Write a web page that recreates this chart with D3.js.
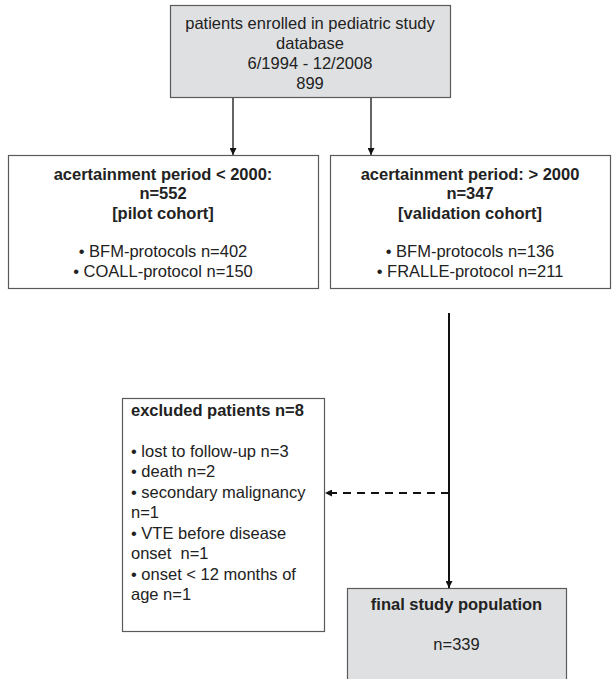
<!DOCTYPE html>
<html lang="en">
<head>
<meta charset="UTF-8">
<title>Study flowchart</title>
<script src="https://cdn.jsdelivr.net/npm/d3@7"></script>
<style>
  body { margin: 0; background: #fff; }
  text { font-family: "Liberation Sans", Arial, sans-serif; font-size: 16.5px; fill: #222; }
  .bold { font-weight: bold; }
</style>
</head>
<body>
<script>
// text content of every box
const enrolledLines = ["patients enrolled in pediatric study", "database", "6/1994 - 12/2008", "899"];
const pilotLines = ["acertainment period < 2000:", "n=552", "[pilot cohort]", "", "\u2022 BFM-protocols n=402", "\u2022 COALL-protocol n=150"];
const validationLines = ["acertainment period: > 2000", "n=347", "[validation cohort]", "", "\u2022 BFM-protocols n=136", "\u2022 FRALLE-protocol n=211"];
const excludedLines = ["excluded patients n=8", "", "\u2022 lost to follow-up n=3", "\u2022 death n=2", "\u2022 secondary malignancy", "n=1", "\u2022 VTE before disease", "onset\u00a0 n=1", "\u2022 onset < 12 months of", "age n=1"];
const finalLines = ["final study population", "", "n=339"];
const boldCount = [0, 3, 3, 1, 1];

// layout (pixels)
const width = 612, height = 679;
const boxes = [
  { x0: 170, y0: 5, x1: 450, y1: 97, fill: "#dfe0e1", align: "middle", first: 23, gap: 20, lines: enrolledLines },
  { x0: 8, y0: 155, x1: 318, y1: 288, fill: "#fff", align: "middle", first: 174, gap: 19.4, lines: pilotLines },
  { x0: 330, y0: 155, x1: 610, y1: 288, fill: "#fff", align: "middle", first: 174, gap: 19.4, lines: validationLines },
  { x0: 122, y0: 398, x1: 324, y1: 631, fill: "#fff", align: "start", first: 410, gap: 20.5, lines: excludedLines },
  { x0: 347, y0: 588, x1: 566, y1: 690, fill: "#dfe0e1", align: "middle", first: 604, gap: 20, lines: finalLines }
];

const svg = d3.select("body").append("svg")
  .attr("width", width)
  .attr("height", height);

svg.append("defs").append("marker")
  .attr("id", "arrow")
  .attr("viewBox", "0 0 10 10")
  .attr("refX", 10).attr("refY", 5)
  .attr("markerWidth", 8).attr("markerHeight", 7)
  .attr("markerUnits", "userSpaceOnUse")
  .attr("orient", "auto")
  .append("path")
  .attr("d", "M0,0 L10,5 L0,10 Z")
  .attr("fill", "#111");

// connectors
const links = [
  { x1: 233, y1: 97, x2: 233, y2: 155, dash: null, w: 1.3 },
  { x1: 371, y1: 97, x2: 371, y2: 155, dash: null, w: 1.3 },
  { x1: 449, y1: 313, x2: 449, y2: 588, dash: null, w: 2 },
  { x1: 449, y1: 493, x2: 325, y2: 493, dash: "8,6", w: 2 }
];

svg.selectAll("line.link")
  .data(links)
  .enter()
  .append("line")
  .attr("class", "link")
  .attr("x1", d => d.x1).attr("y1", d => d.y1)
  .attr("x2", d => d.x2).attr("y2", d => d.y2)
  .attr("stroke", "#111")
  .attr("stroke-width", d => d.w)
  .attr("stroke-dasharray", d => d.dash)
  .attr("marker-end", "url(#arrow)");

const g = svg.selectAll("g.box")
  .data(boxes)
  .enter()
  .append("g")
  .attr("class", "box");

g.append("rect")
  .attr("x", d => d.x0 + 0.5)
  .attr("y", d => d.y0 + 0.5)
  .attr("width", d => d.x1 - d.x0)
  .attr("height", d => d.y1 - d.y0)
  .attr("fill", d => d.fill)
  .attr("stroke", "#5a5a5a")
  .attr("stroke-width", 1.2);

g.each(function (d, bi) {
  const tx = d.align === "middle" ? (d.x0 + d.x1) / 2 : d.x0 + 9;
  d3.select(this).selectAll("text")
    .data(d.lines)
    .enter()
    .append("text")
    .attr("x", tx)
    .attr("y", (t, i) => d.first + i * d.gap)
    .attr("dy", "0.35em")
    .attr("text-anchor", d.align)
    .attr("class", (t, i) => i < boldCount[bi] ? "bold" : null)
    .text(t => t);
});
</script>
</body>
</html>
